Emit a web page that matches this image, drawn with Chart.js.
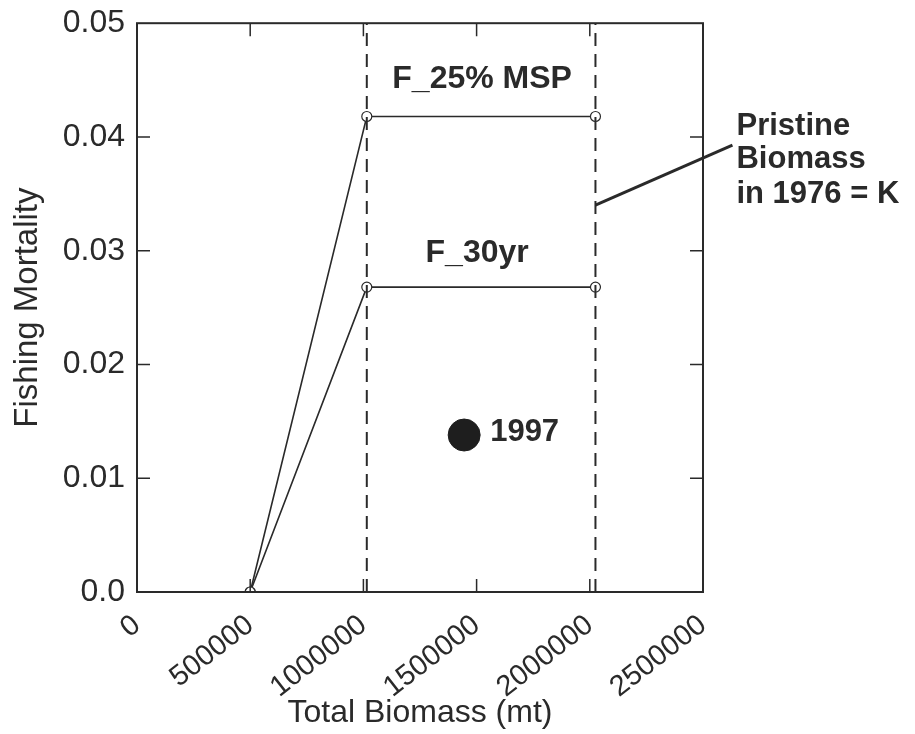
<!DOCTYPE html>
<html>
<head>
<meta charset="utf-8">
<script src="https://cdn.jsdelivr.net/npm/chart.js@4.4.1/dist/chart.umd.min.js"></script>
<style>
  html, body { margin: 0; padding: 0; background: #fff; }
  #wrap { width: 915px; height: 734px; }
</style>
</head>
<body>
<div id="wrap"><canvas id="c" width="915" height="734"></canvas></div>
<script>
(function () {
    'use strict';

    // data
    var biomass = [500000, 1015000, 2025000];
    var fMsp25 = [0, 0.0418, 0.0418];
    var f30yr = [0, 0.0268, 0.0268];
    var refLines = [1015000, 2025000];          // dashed verticals (K = right one)
    var refLineSpan = [0, 0.05];
    var obs1997 = [{ x: 1445000, y: 0.0138 }];
    var kPointerY = 0.034;                       // where the "Pristine" pointer meets the K line
    var xTicks = [0, 500000, 1000000, 1500000, 2000000, 2500000];
    var yTicks = [0, 0.01, 0.02, 0.03, 0.04, 0.05];

    var INK = '#2a2a2a';
    var FONT = "'Liberation Sans', Arial, sans-serif";

    function pts(xs, ys) {
        return xs.map(function (x, i) { return { x: x, y: ys[i] }; });
    }

    var datasets = [];
    refLines.forEach(function (x) {
        datasets.push({
            data: refLineSpan.map(function (y) { return { x: x, y: y }; }),
            borderColor: INK,
            borderWidth: 2,
            borderDash: [13, 8],
            pointRadius: 0,
            showLine: true,
            fill: false
        });
    });
    [fMsp25, f30yr].forEach(function (ys) {
        datasets.push({
            data: pts(biomass, ys),
            borderColor: INK,
            borderWidth: 1.6,
            pointRadius: 5,
            pointBorderWidth: 1.2,
            pointBackgroundColor: '#fff',
            pointBorderColor: INK,
            showLine: true,
            fill: false,
            tension: 0
        });
    });
    datasets.push({
        data: obs1997,
        pointRadius: 16,
        pointBackgroundColor: '#1e1e1e',
        pointBorderColor: '#1e1e1e',
        showLine: false
    });

    var frame = {
        id: 'frame',
        afterDatasetsDraw: function (chart) {
            var ctx = chart.ctx, a = chart.chartArea;
            var xs = chart.scales.x, ys = chart.scales.y;
            var len = 13;
            ctx.save();
            ctx.strokeStyle = INK;
            ctx.lineWidth = 2;
            ctx.strokeRect(a.left, a.top, a.right - a.left, a.bottom - a.top);
            ctx.lineWidth = 1.5;
            ctx.beginPath();
            xTicks.slice(1, -1).forEach(function (v) {
                var px = xs.getPixelForValue(v);
                ctx.moveTo(px, a.bottom); ctx.lineTo(px, a.bottom - len);
                ctx.moveTo(px, a.top); ctx.lineTo(px, a.top + len);
            });
            yTicks.slice(1, -1).forEach(function (v) {
                var py = ys.getPixelForValue(v);
                ctx.moveTo(a.left, py); ctx.lineTo(a.left + len, py);
                ctx.moveTo(a.right, py); ctx.lineTo(a.right - len, py);
            });
            ctx.stroke();

            // curve labels
            ctx.fillStyle = INK;
            ctx.textAlign = 'center';
            ctx.textBaseline = 'alphabetic';
            ctx.font = 'bold 32px ' + FONT;
            var midX = xs.getPixelForValue((biomass[1] + biomass[2]) / 2);
            ctx.fillText('F_25% MSP', midX + 1, ys.getPixelForValue(fMsp25[2]) - 28);
            ctx.fillText('F_30yr', midX - 4, ys.getPixelForValue(f30yr[2]) - 25);

            ctx.textAlign = 'left';
            ctx.font = 'bold 31px ' + FONT;
            ctx.fillText('1997', xs.getPixelForValue(obs1997[0].x) + 26, ys.getPixelForValue(obs1997[0].y) + 6);

            // pointer to the K line
            var kx = xs.getPixelForValue(refLines[1]);
            var ky = ys.getPixelForValue(kPointerY);
            var ex = kx + 137, ey = ky - 60;
            ctx.lineWidth = 3;
            ctx.beginPath();
            ctx.moveTo(kx, ky);
            ctx.lineTo(ex, ey);
            ctx.stroke();
            ctx.font = 'bold 31px ' + FONT;
            ctx.fillText('Pristine', ex + 4, ey - 10);
            ctx.fillText('Biomass', ex + 4, ey + 23);
            ctx.fillText('in 1976 = K', ex + 4, ey + 58);
            ctx.restore();
        }
    };

    new Chart(document.getElementById('c'), {
        type: 'scatter',
        data: { datasets: datasets },
        options: {
            responsive: false,
            animation: false,
            layout: { padding: { top: 16, right: 212, left: 0, bottom: 0 } },
            plugins: { legend: { display: false }, tooltip: { enabled: false } },
            scales: {
                x: {
                    type: 'linear',
                    min: 0,
                    max: 2500000,
                    afterBuildTicks: function (s) { s.ticks = xTicks.map(function (v) { return { value: v }; }); },
                    afterFit: function (s) { s.height = 142; },
                    grid: { display: false },
                    border: { display: false },
                    ticks: {
                        autoSkip: false,
                        minRotation: 38,
                        maxRotation: 38,
                        padding: 8,
                        color: INK,
                        font: { family: FONT, size: 29 },
                        callback: function (v) { return String(v); }
                    },
                    title: {
                        display: true,
                        text: 'Total Biomass (mt)',
                        color: INK,
                        font: { family: FONT, size: 32 },
                        padding: { top: 0, bottom: 2 }
                    }
                },
                y: {
                    min: 0,
                    max: 0.05,
                    afterBuildTicks: function (s) { s.ticks = yTicks.map(function (v) { return { value: v }; }); },
                    afterFit: function (s) { s.width = 137; },
                    grid: { display: false },
                    border: { display: false },
                    ticks: {
                        padding: 4,
                        color: INK,
                        font: { family: FONT, size: 32 },
                        callback: function (v) { return v === 0 ? '0.0' : v.toFixed(2); }
                    },
                    title: {
                        display: true,
                        text: 'Fishing Mortality',
                        color: INK,
                        font: { family: FONT, size: 33 },
                        padding: { top: 8, bottom: 0 }
                    }
                }
            }
        },
        plugins: [frame]
    });
})();
</script>
</body>
</html>
